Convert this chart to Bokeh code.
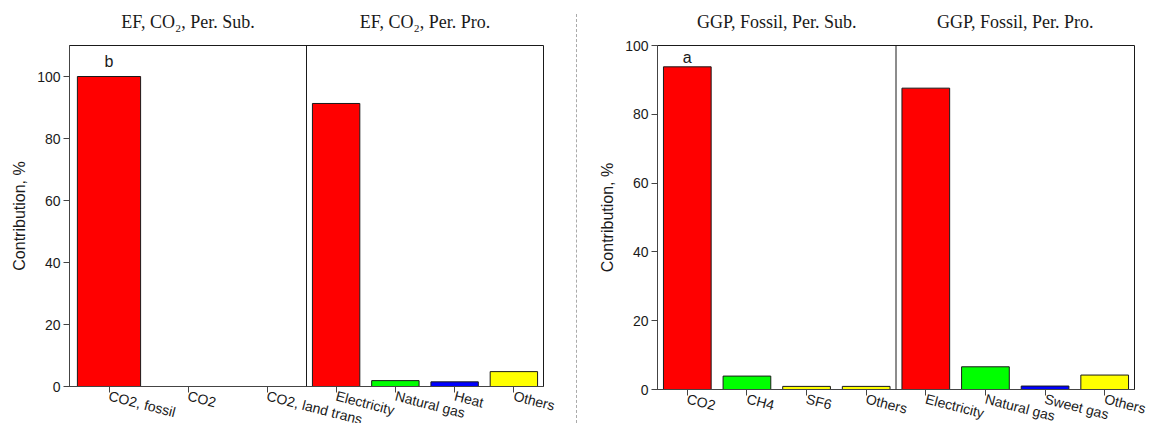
from bokeh.plotting import figure
from bokeh.models import (Range1d, ColumnDataSource, Div, SingleIntervalTicker,
                          FixedTicker, Span, LinearAxis, GlobalInlineStyleSheet)
from bokeh.layouts import row
from bokeh.embed import file_html
from bokeh.resources import INLINE
from bokeh.core.properties import value

# ---- data ----
ef_sub_cats = ["CO2, fossil", "CO2", "CO2, land trans"]
ef_sub_vals = [100.0, 0.0, 0.0]
ef_sub_cols = ["#FF0000", "#FF0000", "#FF0000"]

ef_pro_cats = ["Electricity", "Natural gas", "Heat", "Others"]
ef_pro_vals = [91.3, 1.9, 1.5, 4.8]
ef_pro_cols = ["#FF0000", "#00FF00", "#0000FF", "#FFFF00"]

ggp_sub_cats = ["CO2", "CH4", "SF6", "Others"]
ggp_sub_vals = [93.8, 3.9, 0.9, 0.9]
ggp_sub_cols = ["#FF0000", "#00FF00", "#FFFF00", "#FFFF00"]

ggp_pro_cats = ["Electricity", "Natural gas", "Sweet gas", "Others"]
ggp_pro_vals = [87.6, 6.6, 1.0, 4.2]
ggp_pro_cols = ["#FF0000", "#00FF00", "#0000FF", "#FFFF00"]

ef_titles = ["EF, CO\u2082, Per. Sub.", "EF, CO\u2082, Per. Pro."]
ggp_titles = ["GGP, Fossil, Per. Sub.", "GGP, Fossil, Per. Pro."]
sig_letters = ["b", "a"]
y_label = "Contribution, %"

SANS = "Liberation Sans"
SERIF = "Liberation Serif"
INK = "#1a1a1a"


def make_panel(cats1, vals1, cols1, cats2, vals2, cols2, titles, ymax,
               width, height, bl, br, bt, bb, letter, letter_gap):
    span = float(len(cats1))          # each sub-panel spans the same width
    w1 = span / len(cats1)
    w2 = span / len(cats2)
    x1 = [(i + 0.5) * w1 for i in range(len(cats1))]
    x2 = [span + (j + 0.5) * w2 for j in range(len(cats2))]

    p = figure(x_range=Range1d(0, 2 * span), y_range=Range1d(0, ymax),
               width=width, height=height, output_backend="svg",
               toolbar_location=None,
               min_border_left=bl, min_border_right=br,
               min_border_top=bt, min_border_bottom=bb)
    p.outline_line_color = INK
    p.outline_line_width = 1
    p.outline_line_alpha = 1
    p.xgrid.visible = False
    p.ygrid.visible = False

    s1 = ColumnDataSource(dict(x=x1, top=vals1, color=cols1))
    s2 = ColumnDataSource(dict(x=x2, top=vals2, color=cols2))
    p.vbar(x="x", top="top", bottom=0, width=0.8 * w1, fill_color="color",
           line_color=INK, line_width=1, source=s1)
    p.vbar(x="x", top="top", bottom=0, width=0.8 * w2, fill_color="color",
           line_color=INK, line_width=1, source=s2)

    p.add_layout(Span(location=span, dimension="height", line_color=INK,
                      line_width=1))

    # sub-panel titles as an axis above the frame
    centers = [span / 2, span * 1.5]
    ta = LinearAxis(ticker=FixedTicker(ticks=centers),
                    major_label_overrides={float(c): t for c, t in zip(centers, titles)})
    ta.axis_line_color = None
    ta.major_tick_line_color = None
    ta.minor_tick_line_color = None
    ta.major_tick_out = 0
    ta.major_tick_in = 0
    ta.minor_tick_out = 0
    ta.minor_tick_in = 0
    ta.major_label_standoff = 14
    ta.major_label_text_font = SERIF
    ta.major_label_text_font_size = "18px"
    ta.major_label_text_color = INK
    p.add_layout(ta, "above")

    # significance letter above first bar
    ls = ColumnDataSource(dict(x=[x1[0]], y=[vals1[0]], t=[letter]))
    p.text(x="x", y="y", text="t", source=ls, text_align="center",
           text_baseline="bottom", y_offset=-letter_gap,
           text_font=value(SANS), text_font_size="16px", text_color=INK)

    xa = p.below[0]
    xa.ticker = FixedTicker(ticks=x1 + x2)
    xa.major_label_overrides = {float(k): v for k, v in zip(x1 + x2, cats1 + cats2)}
    xa.minor_tick_out = 0
    xa.minor_tick_in = 0
    xa.major_label_orientation = -0.25
    xa.major_label_text_font = SANS
    xa.major_label_text_font_size = "14px"
    xa.major_label_text_color = INK
    xa.major_tick_out = 6
    xa.major_tick_in = 0
    xa.axis_line_color = "#444444"
    xa.major_tick_line_color = "#444444"
    xa.major_label_standoff = 3

    ya = p.left[0]
    ya.ticker = SingleIntervalTicker(interval=20, num_minor_ticks=0)
    ya.axis_label = y_label
    ya.axis_label_text_font = SANS
    ya.axis_label_text_font_size = "16px"
    ya.axis_label_text_font_style = "normal"
    ya.axis_label_text_color = INK
    ya.axis_label_standoff = 6
    ya.major_label_text_font = SANS
    ya.major_label_text_font_size = "14px"
    ya.major_label_text_color = INK
    ya.major_tick_out = 6
    ya.major_tick_in = 0
    ya.minor_tick_out = 0
    ya.axis_line_color = "#444444"
    ya.major_tick_line_color = "#444444"
    ya.major_label_standoff = 3
    return p


pL = make_panel(ef_sub_cats, ef_sub_vals, ef_sub_cols,
                ef_pro_cats, ef_pro_vals, ef_pro_cols, ef_titles, 110,
                573, 438, 69, 30, 45, 52, sig_letters[0], 7)
sep = Div(text="", width=4, height=409, margin=0,
          styles={"border-right": "1px dashed #aaaaaa", "margin-top": "14px",
                  "box-sizing": "border-box"})
pR = make_panel(ggp_sub_cats, ggp_sub_vals, ggp_sub_cols,
                ggp_pro_cats, ggp_pro_vals, ggp_pro_cols, ggp_titles, 100,
                575, 441, 80, 18, 44, 52, sig_letters[1], 1)

layout = row(pL, sep, pR, spacing=0,
             stylesheets=[GlobalInlineStyleSheet(
                 css="html, body { overflow: hidden !important; }")])

with open("out.html", "w") as f:
    f.write(file_html(layout, INLINE))
